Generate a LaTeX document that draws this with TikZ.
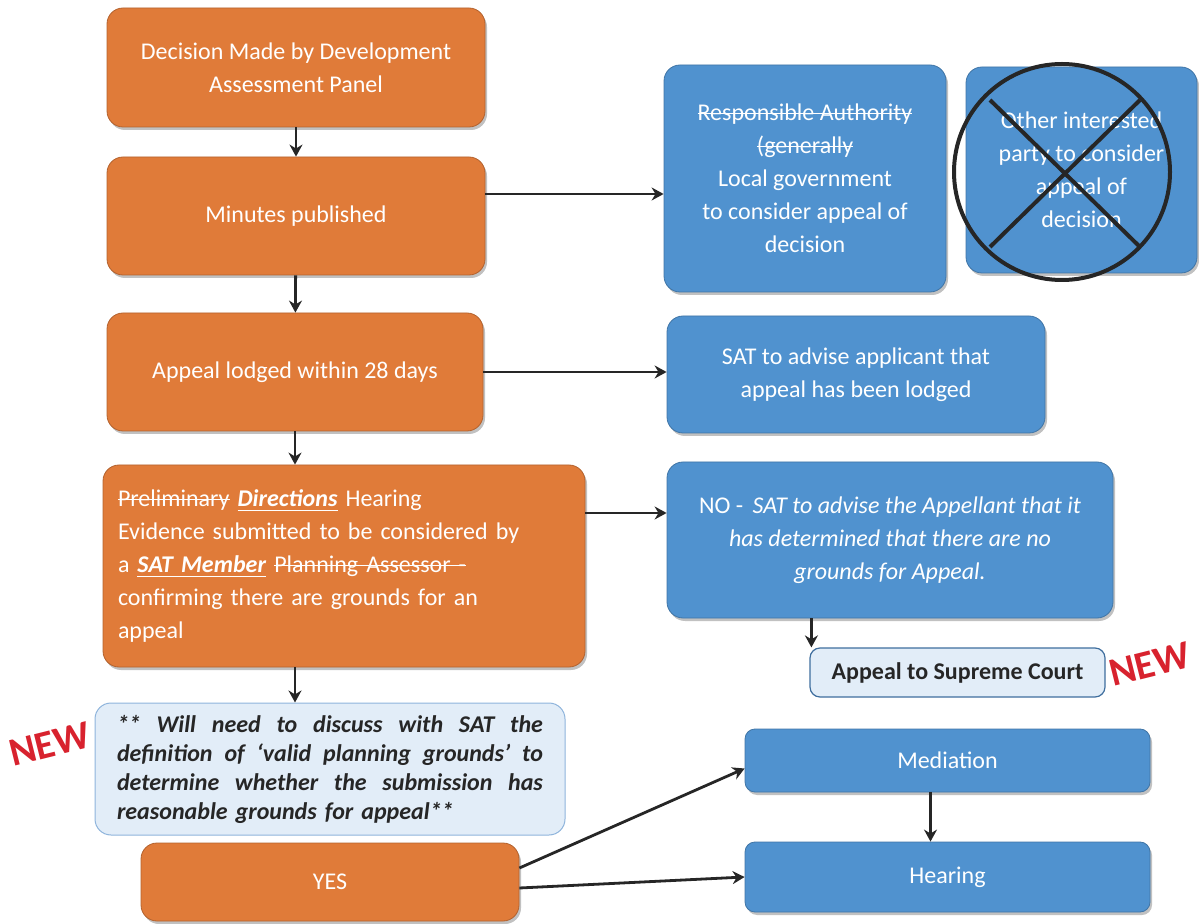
\documentclass[tikz,border=0pt]{standalone}
\usepackage{fontspec}
\setmainfont{Carlito}
\usetikzlibrary{shadows,arrows.meta}
\newsavebox\mybx
\newcommand\strk[1]{\sbox\mybx{#1}\rlap{\rule[0.27em]{\wd\mybx}{0.6pt}}\usebox\mybx}
\newcommand\undl[1]{\sbox\mybx{#1}\rlap{\rule[-0.2em]{\wd\mybx}{0.6pt}}\usebox\mybx}
\newcommand\jline[1]{\leavevmode\hbox to 213pt{#1}}
\newcommand\hf{\hfill}
\definecolor{orng}{HTML}{E07B39}
\definecolor{blu}{HTML}{5092CF}
\definecolor{lblu}{HTML}{E2EDF8}
\definecolor{lbord}{HTML}{8EB4DC}
\definecolor{dbord}{HTML}{3F6E9E}
\definecolor{newred}{HTML}{D8222E}
\definecolor{arr}{HTML}{262626}
\tikzset{
  base/.style={rounded corners=8pt, inner sep=4pt, align=center, font=\fontsize{12}{16.5}\selectfont, text=white,
    drop shadow={shadow xshift=1pt, shadow yshift=-1.5pt, opacity=0.35, fill=black!70}},
  obox/.style={base, fill=orng, draw=orng!80!black, line width=0.4pt},
  bbox/.style={base, fill=blu, draw=blu!80!black, line width=0.4pt},
  conn/.style={draw=arr, line width=1.4pt, -{Stealth[length=6pt,width=6.5pt]}},
  newlbl/.style={text=newred, font=\fontsize{20}{22}\bfseries\selectfont, rotate=14},
}
\begin{document}
\begin{tikzpicture}[x=0.5pt,y=-0.5pt]
\useasboundingbox (0,0) rectangle (1199,924);
% left column
\node[obox, minimum width=189pt, minimum height=59.5pt] (dec) at (296,67.5) {Decision Made by Development\\Assessment Panel};
\node[obox, minimum width=189pt, minimum height=59pt] (min) at (296,216) {Minutes published};
\node[obox, minimum width=188pt, minimum height=59pt] (app) at (295,372) {Appeal lodged within 28 days};
\node[obox, minimum width=241pt, minimum height=101pt, text width=226pt, align=left] (pre) at (344,566)
 {\strk{Preliminary} \undl{\textbf{\textit{Directions}}} Hearing\\Evidence submitted to be considered by\\a \undl{\textbf{\textit{SAT Member}}} \strk{Planning Assessor -}\\confirming there are grounds for an\\appeal};
\node[rounded corners=8pt, fill=lblu, draw=lbord, line width=0.5pt, minimum width=235pt, minimum height=66pt,
  text width=213pt, align=left, font=\fontsize{12}{14.5}\bfseries\itshape\selectfont, text=black!85] (note) at (330,769)
 {\jline{**\hf Will\hf need\hf to\hf discuss\hf with\hf SAT\hf the}\\\jline{definition\hf of\hf `valid\hf planning\hf grounds'\hf to}\\\jline{determine\hf whether\hf the\hf submission\hf has}\\reasonable grounds for appeal**};
\node[obox, minimum width=189pt, minimum height=39pt] (yes) at (330,882) {YES};
% right column
\node[bbox, minimum width=141pt, minimum height=113.5pt] (resp) at (805,178.5)
 {\strk{Responsible Authority}\\\strk{(generally}\\Local government\\to consider appeal of\\decision};
\node[bbox, minimum width=115.5pt, minimum height=103pt] (oth) at (1081.5,170)
 {Other interested\\party to consider\\appeal of\\decision};
\node[bbox, minimum width=189pt, minimum height=58.5pt] (sat) at (856,374.5) {SAT to advise applicant that\\appeal has been lodged};
\node[bbox, minimum width=223pt, minimum height=78pt] (no) at (890,540)
 {NO -\, \textit{SAT to advise the Appellant that it}\\\textit{has determined that there are no}\\\textit{grounds for Appeal.}};
\node[rounded corners=5pt, fill=lblu, draw=dbord, line width=0.6pt, minimum width=147.5pt, minimum height=24.5pt,
  font=\fontsize{12}{14}\bfseries\selectfont, text=black!85] (sup) at (957.5,672.5) {Appeal to Supreme Court};
\node[bbox, minimum width=202.5pt, minimum height=31.5pt, rounded corners=5pt] (med) at (947.5,760.5) {Mediation};
\node[bbox, minimum width=202.5pt, minimum height=35pt, rounded corners=5pt] (hea) at (947.5,877) {Hearing};
% crossed circle
\coordinate (cc) at (1062,172);
\draw[line width=2pt, black!85] (cc) circle (54pt);
\draw[line width=2pt, black!85] (990,100) -- (1140,247);
\draw[line width=2pt, black!85] (1140,100) -- (990,247);
% NEW labels
\node[newlbl] (new1) at (50,744) {NEW};
\node[newlbl] (new2) at (1150,664) {NEW};
% connectors
\draw[conn] (dec) -- (min);
\draw[conn] (min) -- (app);
\draw[conn] (app.south) -- (app.south |- pre.north);
\draw[conn] (app.south |- pre.south) -- (app.south |- note.north);
\draw[conn] ([yshift=11pt]min.east) -- ([yshift=11pt]min.east -| resp.west);
\draw[conn] (app.east) -- (app.east -| sat.west);
\draw[conn] ([yshift=26.5pt]pre.east) -- ([yshift=26.5pt]pre.east -| no.west);
\draw[conn] ([xshift=1pt]sup.west |- no.south) -- ([xshift=1pt]sup.north west);
\draw[conn] ([yshift=7pt]yes.east) -- ([yshift=-4pt]med.west);
\draw[conn] ([yshift=-3pt]yes.east) -- (hea.west);
\draw[conn] ([xshift=-8.5pt]med.south) -- ([xshift=-8.5pt]hea.north);
\end{tikzpicture}
\end{document}
